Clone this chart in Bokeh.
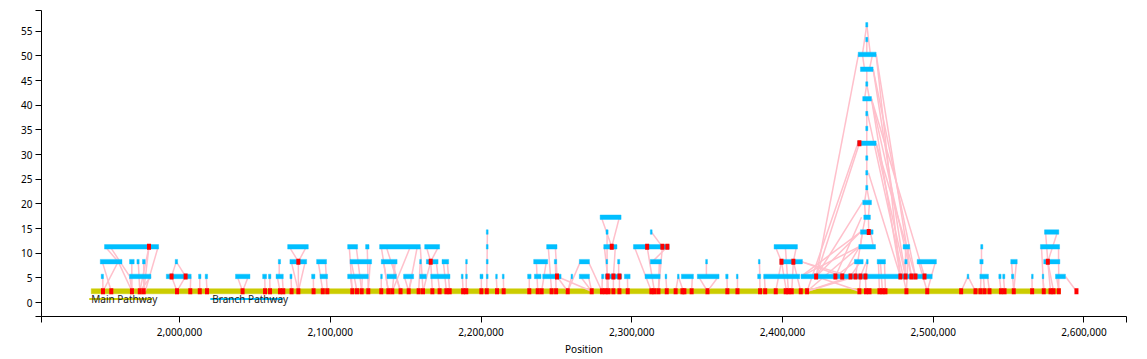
from bokeh.plotting import figure
from bokeh.models import FixedTicker, Range1d, ColumnDataSource
from bokeh.embed import file_html
from bokeh.resources import INLINE
from bokeh.core.properties import value

# ---------------- data (positions in kb, lanes = stacking level) ----------------
main_start_kb = 1941.4
main_end_kb = 2584.4
lane_base = 2.3
lane_step = 3.0

main_red_kb = [1949.2, 1954.7, 1968.4, 1973.6, 1976.2, 1998.3, 2007.1, 2013.4, 2018.2,
               2041.8, 2056.7, 2060.0, 2066.6, 2068.8, 2074.3, 2078.8, 2088.9, 2095.0, 2098.0,
               2114.6, 2117.7, 2120.8, 2125.2, 2133.8, 2138.5, 2141.1, 2146.6, 2152.0, 2158.6,
               2161.5, 2167.7, 2172.5, 2177.0, 2179.2, 2188.1, 2190.2, 2200.2, 2203.8, 2210.6,
               2215.0, 2232.0, 2237.6, 2240.2, 2246.8, 2249.8, 2257.5, 2273.4, 2280.2, 2282.5,
               2284.5, 2287.8, 2291.8, 2297.3, 2313.0, 2315.0, 2317.7, 2323.2, 2329.1, 2333.6,
               2334.9, 2339.7, 2350.2, 2363.4, 2370.1, 2385.1, 2388.5, 2395.5, 2402.1, 2403.9,
               2406.1, 2412.1, 2416.3, 2451.0, 2455.4, 2457.7, 2464.3, 2466.3, 2468.3, 2482.2,
               2496.0, 2518.5, 2528.0, 2531.3, 2534.0, 2537.3, 2544.9, 2547.3, 2553.4, 2565.6,
               2573.3, 2577.8, 2579.8, 2583.3, 2595.0]
lane1_red_kb = [1994.7, 2004.0, 2250.4, 2284.0, 2287.8, 2291.8, 2422.3, 2435.1, 2439.6,
                2445.1, 2448.4, 2451.7, 2455.0, 2478.2, 2481.6, 2485.5, 2488.2, 2494.2]
lane2_red_kb = [2078.8, 2166.6, 2399.3, 2407.2, 2576.0]
lane3_red_kb = [1979.7, 2286.7, 2310.2, 2320.3, 2323.6]
lane4_red_kb = [2457.2]
lane10_red_kb = [2451.0]

lane1_bars = [(1948.0, 1949.5), (1966.8, 1981.0), (1991.2, 2007.7), (2012.6, 2014.2), (2017.0, 2018.6),
              (2037.1, 2046.7), (2055.1, 2057.7), (2059.0, 2060.6), (2064.0, 2068.8), (2073.2, 2074.6),
              (2087.6, 2089.8), (2093.2, 2098.2), (2111.5, 2125.2), (2133.4, 2134.5), (2137.6, 2143.8),
              (2148.6, 2155.3), (2159.3, 2163.7), (2166.6, 2179.4), (2186.9, 2188.1), (2189.8, 2190.9),
              (2199.3, 2201.3), (2203.5, 2204.7), (2209.7, 2210.8), (2214.1, 2215.3), (2230.9, 2233.2),
              (2235.4, 2239.8), (2240.9, 2253.1), (2259.7, 2260.8), (2265.2, 2271.9), (2280.0, 2281.4),
              (2282.3, 2293.3), (2295.1, 2298.9), (2308.8, 2318.8), (2322.1, 2323.2), (2330.3, 2331.4),
              (2332.9, 2340.9), (2343.5, 2357.9), (2362.3, 2363.9), (2369.4, 2370.5), (2383.5, 2385.5),
              (2387.5, 2411.4), (2412.3, 2499.3), (2522.5, 2523.6), (2530.9, 2536.6), (2543.5, 2545.0),
              (2546.1, 2547.5), (2551.9, 2553.4), (2565.2, 2566.3), (2572.3, 2573.3), (2581.1, 2587.7)]
lane2_bars = [(1947.4, 1961.8), (1966.8, 1969.9), (1971.7, 1973.2), (1975.4, 1977.2), (1997.1, 1998.7),
              (2065.5, 2067.0), (2073.2, 2084.3), (2090.9, 2097.5), (2113.1, 2127.4), (2133.8, 2144.3),
              (2159.3, 2160.4), (2163.7, 2171.5), (2174.1, 2178.5), (2189.8, 2190.9), (2203.5, 2204.7),
              (2234.9, 2244.2), (2248.6, 2250.2), (2265.2, 2271.9), (2282.9, 2284.0), (2290.6, 2292.0),
              (2312.3, 2319.6), (2349.0, 2350.2), (2384.0, 2385.1), (2398.4, 2413.2), (2447.7, 2453.5),
              (2455.7, 2456.8), (2462.8, 2468.3), (2481.1, 2482.7), (2489.3, 2502.1), (2530.9, 2533.1),
              (2551.4, 2555.7), (2573.3, 2584.0)]
lane3_bars = [(1950.2, 1986.1), (2071.7, 2085.4), (2111.5, 2118.1), (2123.4, 2125.7), (2132.7, 2159.7),
              (2162.6, 2172.5), (2203.5, 2204.7), (2243.5, 2250.4), (2281.4, 2290.2), (2301.1, 2324.8),
              (2394.4, 2409.9), (2450.6, 2461.7), (2480.0, 2484.4), (2531.5, 2532.9), (2571.1, 2583.8)]
lane4_bars = [(2203.5, 2204.7), (2282.9, 2284.3), (2312.3, 2313.5), (2451.7, 2460.1), (2573.8, 2583.3)]
lane5_bars = [(2279.0, 2292.9), (2453.9, 2458.3)]
upper_lanes = [6, 7, 8, 9, 10, 11, 12, 13, 14, 15, 16, 17, 18]
upper_start_kb = [2453.2, 2455.2, 2455.2, 2455.2, 2449.9, 2455.2, 2455.2, 2453.2, 2455.2, 2451.7, 2450.2, 2455.2, 2455.2]
upper_end_kb = [2459.0, 2456.6, 2456.6, 2456.6, 2462.1, 2456.6, 2456.6, 2459.0, 2456.6, 2460.1, 2462.1, 2456.6, 2456.6]

# links: (from_kb, from_lane, to_kb, to_lane)
pink_links = [
    (1949.0, 1, 1949.2, 0), (1948.7, 2, 1954.7, 0), (1959.3, 2, 1949.2, 0), (1950.7, 3, 1959.3, 2),
    (1959.3, 2, 1968.4, 0), (1966.9, 1, 1968.4, 0), (1981.0, 1, 1973.6, 0), (1968.3, 2, 1968.4, 0),
    (1972.6, 2, 1973.6, 0), (1976.2, 2, 1976.2, 0), (1979.7, 3, 1973.6, 0), (1979.7, 3, 1976.2, 0),
    (1985.8, 3, 1977.2, 0), (1997.8, 2, 1994.7, 1), (1997.8, 2, 2004.0, 1), (1994.7, 1, 1998.3, 0),
    (2004.0, 1, 1998.3, 0), (2007.4, 1, 2007.1, 0), (2013.4, 1, 2013.4, 0), (2017.7, 1, 2018.2, 0),
    (1954.0, 3, 1966.9, 1), (2038.3, 1, 2041.8, 0), (2045.6, 1, 2041.8, 0), (2056.5, 1, 2056.7, 0),
    (2059.8, 1, 2060.0, 0), (2064.8, 1, 2066.6, 0), (2068.1, 1, 2068.8, 0), (2066.1, 2, 2066.1, 1),
    (2073.9, 1, 2074.3, 0), (2072.8, 3, 2078.8, 2), (2084.1, 3, 2078.8, 2), (2078.8, 2, 2078.8, 0),
    (2074.1, 2, 2078.8, 0), (2083.4, 2, 2078.8, 0), (2088.7, 1, 2088.9, 0), (2092.0, 2, 2095.0, 0),
    (2096.7, 2, 2098.0, 0), (2112.6, 3, 2114.6, 0), (2117.2, 3, 2120.8, 0), (2124.5, 3, 2125.2, 0),
    (2113.9, 2, 2117.7, 0), (2126.5, 2, 2125.2, 0), (2113.3, 1, 2114.6, 0), (2121.2, 1, 2120.8, 0),
    (2133.8, 3, 2138.5, 0), (2137.1, 3, 2146.6, 0), (2157.7, 3, 2152.0, 0), (2153.1, 3, 2141.1, 0),
    (2133.8, 1, 2133.8, 0), (2135.2, 2, 2138.5, 0), (2143.1, 2, 2141.1, 0), (2149.1, 1, 2152.0, 0),
    (2154.4, 1, 2152.0, 0), (2159.7, 2, 2158.6, 0), (2163.7, 3, 2166.6, 2), (2171.7, 3, 2166.6, 2),
    (2166.6, 2, 2167.7, 0), (2166.6, 2, 2161.5, 0), (2170.3, 2, 2172.5, 0), (2175.0, 2, 2177.0, 0),
    (2177.6, 2, 2179.2, 0), (2187.6, 1, 2188.1, 0), (2190.2, 2, 2190.2, 0), (2200.2, 1, 2200.2, 0),
    (2204.2, 4, 2203.8, 0), (2210.1, 1, 2210.6, 0), (2214.8, 1, 2215.0, 0), (2141.1, 2, 2146.6, 0),
    (2159.7, 3, 2161.5, 0), (2232.0, 1, 2232.0, 0), (2236.7, 2, 2237.6, 0), (2243.3, 2, 2240.2, 0),
    (2244.6, 3, 2246.8, 0), (2249.3, 3, 2250.4, 1), (2249.3, 2, 2249.8, 0), (2250.4, 1, 2257.5, 0),
    (2260.2, 1, 2257.5, 0), (2265.9, 2, 2257.5, 0), (2271.2, 2, 2280.2, 0), (2265.9, 1, 2273.4, 0),
    (2271.2, 1, 2273.4, 0), (2280.5, 1, 2280.2, 0), (2279.8, 5, 2286.7, 3), (2291.8, 5, 2286.7, 3),
    (2283.6, 4, 2283.6, 0), (2281.8, 3, 2284.0, 1), (2289.1, 3, 2287.8, 1), (2284.0, 1, 2284.5, 0),
    (2287.8, 1, 2287.8, 0), (2291.8, 1, 2291.8, 0), (2291.3, 2, 2291.3, 1), (2297.1, 1, 2297.3, 0),
    (2301.7, 3, 2313.0, 0), (2310.2, 3, 2315.0, 0), (2320.3, 3, 2317.7, 0), (2323.6, 3, 2313.7, 2),
    (2313.0, 4, 2320.3, 3), (2318.3, 2, 2317.7, 0), (2250.4, 1, 2273.4, 0), (2322.6, 1, 2323.2, 0),
    (2330.9, 1, 2329.1, 0), (2330.9, 1, 2334.2, 0), (2340.2, 1, 2339.7, 0), (2344.2, 1, 2350.2, 0),
    (2357.5, 1, 2350.2, 0), (2349.5, 2, 2349.5, 1), (2363.1, 1, 2363.4, 0), (2370.1, 1, 2370.1, 0),
    (2384.7, 2, 2385.1, 0), (2388.0, 1, 2388.5, 0), (2395.3, 3, 2399.3, 2), (2409.2, 3, 2407.2, 2),
    (2399.3, 2, 2395.5, 0), (2399.3, 2, 2402.6, 0), (2407.2, 2, 2406.1, 0), (2407.2, 2, 2412.1, 0),
    (2401.9, 3, 2403.9, 0),
    # peak stack
    (2455.9, 18, 2453.0, 16), (2455.9, 18, 2458.3, 16), (2455.9, 17, 2455.9, 16), (2453.0, 16, 2454.4, 15),
    (2459.7, 16, 2457.7, 15), (2455.9, 15, 2455.9, 14), (2455.9, 14, 2454.4, 13), (2455.9, 14, 2457.7, 13),
    (2455.9, 13, 2455.9, 12), (2455.9, 12, 2455.9, 11), (2455.9, 11, 2455.9, 10), (2455.9, 10, 2455.9, 9),
    (2455.9, 9, 2455.9, 8), (2455.9, 8, 2455.9, 7), (2455.9, 7, 2454.4, 6), (2455.9, 7, 2457.7, 6),
    (2454.4, 6, 2455.0, 5), (2457.7, 6, 2457.0, 5), (2455.0, 5, 2453.0, 4), (2457.0, 5, 2457.2, 4),
    (2453.0, 4, 2451.7, 3), (2458.3, 4, 2460.3, 3),
    # peak, left side
    (2450.4, 16, 2422.3, 1), (2451.0, 10, 2422.3, 1), (2450.0, 10, 2416.3, 0), (2453.0, 6, 2422.3, 1),
    (2452.4, 5, 2435.1, 1), (2451.7, 4, 2422.3, 1), (2451.0, 3, 2439.6, 1), (2450.7, 3, 2416.3, 0),
    (2448.4, 2, 2435.1, 1), (2451.7, 2, 2445.1, 1), (2416.3, 0, 2445.1, 1), (2416.3, 0, 2448.4, 1),
    (2422.3, 1, 2451.0, 0), (2453.0, 4, 2448.4, 1), (2455.7, 2, 2451.7, 1), (2456.4, 2, 2455.0, 1),
    (2455.0, 1, 2455.4, 0), (2451.7, 1, 2451.0, 0), (2451.7, 4, 2412.3, 1), (2450.6, 3, 2412.3, 1),
    (2412.5, 2, 2439.6, 1), (2412.5, 2, 2445.1, 1),
    # peak, right side
    (2462.1, 16, 2478.2, 1), (2462.1, 16, 2485.5, 1), (2460.1, 15, 2481.6, 1), (2460.1, 15, 2488.2, 1),
    (2459.0, 13, 2478.2, 1), (2459.0, 13, 2485.5, 1), (2462.1, 10, 2481.6, 1), (2462.1, 10, 2488.2, 1),
    (2456.4, 12, 2482.2, 0), (2457.0, 8, 2478.2, 1), (2459.0, 13, 2494.2, 1), (2480.9, 2, 2481.6, 1),
    (2481.6, 3, 2481.6, 1), (2483.6, 3, 2482.2, 0), (2490.2, 2, 2496.0, 0), (2501.5, 2, 2496.0, 0),
    (2463.6, 2, 2464.3, 0), (2467.6, 2, 2468.3, 0), (2464.9, 2, 2466.3, 0),
    # right part
    (2523.0, 1, 2518.5, 0), (2523.0, 1, 2528.0, 0), (2532.0, 3, 2532.0, 2), (2532.0, 2, 2531.3, 0),
    (2536.0, 1, 2537.3, 0), (2533.3, 1, 2534.0, 0), (2543.9, 1, 2544.9, 0), (2546.6, 1, 2547.3, 0),
    (2551.9, 2, 2553.4, 0), (2555.2, 2, 2553.4, 0), (2565.5, 1, 2565.6, 0), (2572.8, 1, 2573.3, 0),
    (2574.5, 4, 2576.0, 2), (2582.4, 4, 2576.0, 2), (2571.8, 3, 2573.3, 0), (2583.1, 3, 2583.3, 0),
    (2576.0, 2, 2577.8, 0), (2576.0, 2, 2579.8, 0), (2587.7, 1, 2595.0, 0), (2581.8, 1, 2583.3, 0),
]

legend_names = ["Main Pathway", "Branch Pathway"]
legend_x_kb = [1941.4, 2021.7]
legend_line_start_kb = [1940.1, 2020.4]
legend_line_end_kb = [1981.9, 2068.8]
legend_colors = ["#CCCC00", "#00BFFF"]

x_ticks = [2000000, 2100000, 2200000, 2300000, 2400000, 2500000, 2600000]
y_ticks = [0, 5, 10, 15, 20, 25, 30, 35, 40, 45, 50, 55]
x_start, x_end = 1908400, 2628200
y_start, y_end = -2.82, 59.2

# ---------------- figure ----------------
FONT = "Noto Sans"


def lane_y(k):
    return lane_base + lane_step * k


p = figure(width=1140, height=358, x_range=Range1d(x_start, x_end), y_range=Range1d(y_start, y_end),
           output_backend="svg", toolbar_location=None,
           min_border_left=41, min_border_right=14, min_border_top=10, min_border_bottom=0)
p.xgrid.visible = False
p.ygrid.visible = False
p.outline_line_color = None
p.background_fill_color = "white"
p.border_fill_color = "white"

# axes with outer end ticks
xt = [x_start + 60] + x_ticks + [x_end - 60]
yt = [y_start + 0.01] + y_ticks + [y_end - 0.01]
p.xaxis.ticker = FixedTicker(ticks=xt)
p.yaxis.ticker = FixedTicker(ticks=yt)
x_over = {t: f"{t:,}" for t in x_ticks}
x_over[xt[0]] = ""
x_over[xt[-1]] = ""
p.xaxis.major_label_overrides = x_over
y_over = {t: str(t) for t in y_ticks}
y_over[yt[0]] = ""
y_over[yt[-1]] = ""
p.yaxis.major_label_overrides = y_over

for ax in (p.xaxis[0], p.yaxis[0]):
    ax.major_tick_in = 0
    ax.major_tick_out = 6
    ax.minor_tick_line_color = None
    ax.axis_line_color = "black"
    ax.major_tick_line_color = "black"
    ax.major_label_text_font = FONT
    ax.major_label_text_font_size = "10px"
    ax.major_label_text_color = "black"
p.yaxis.major_label_standoff = 3
p.xaxis.major_label_standoff = 5
p.xaxis.axis_label = "Position"
p.xaxis.axis_label_text_font = FONT
p.xaxis.axis_label_text_font_size = "10px"
p.xaxis.axis_label_text_font_style = "normal"
p.xaxis.axis_label_text_color = "black"
p.xaxis.axis_label_standoff = 3

# main pathway line
p.rect(x=[(main_start_kb + main_end_kb) / 2 * 1000], y=[lane_y(0)],
       width=[(main_end_kb - main_start_kb) * 1000], height=5, height_units="screen",
       fill_color="#CCCC00", line_color="#CCCC00", line_alpha=0.45, line_width=1)

# pink links
lx0 = [a * 1000 for a, _, _, _ in pink_links]
ly0 = [lane_y(b) for _, b, _, _ in pink_links]
lx1 = [c * 1000 for _, _, c, _ in pink_links]
ly1 = [lane_y(d) for _, _, _, d in pink_links]
p.segment(x0=lx0, y0=ly0, x1=lx1, y1=ly1, line_color="#FFC0CB", line_width=1.5)

# branch bars
bx, by, bw = [], [], []
for k, bars in ((1, lane1_bars), (2, lane2_bars), (3, lane3_bars), (4, lane4_bars), (5, lane5_bars)):
    for s, e in bars:
        bx.append((s + e) / 2 * 1000)
        by.append(lane_y(k))
        bw.append((e - s) * 1000)
for k, s, e in zip(upper_lanes, upper_start_kb, upper_end_kb):
    bx.append((s + e) / 2 * 1000)
    by.append(lane_y(k))
    bw.append((e - s) * 1000)
p.rect(x="x", y="y", width="w", source=ColumnDataSource(dict(x=bx, y=by, w=bw)),
       height=4.5, height_units="screen",
       fill_color="#00BFFF", line_color="#00BFFF", line_alpha=0.4, line_width=1)

# red markers
rx, ry = [], []
for k, reds in ((0, main_red_kb), (1, lane1_red_kb), (2, lane2_red_kb), (3, lane3_red_kb),
                (4, lane4_red_kb), (10, lane10_red_kb)):
    for r in reds:
        rx.append(r * 1000)
        ry.append(lane_y(k))
p.rect(x=rx, y=ry, width=4, height=6, width_units="screen", height_units="screen",
       fill_color="#FF0000", line_color=None)

# pathway labels
p.segment(x0=[v * 1000 for v in legend_line_start_kb], y0=[0.75, 0.75],
          x1=[v * 1000 for v in legend_line_end_kb], y1=[0.75, 0.75],
          line_color=legend_colors, line_width=2)
p.text(x=[v * 1000 for v in legend_x_kb], y=[0.65, 0.65], text=legend_names,
       text_font=value(FONT), text_font_size="10px", text_color="#222222",
       text_align="left", text_baseline="middle")

open("out.html", "w").write(file_html(p, INLINE))
